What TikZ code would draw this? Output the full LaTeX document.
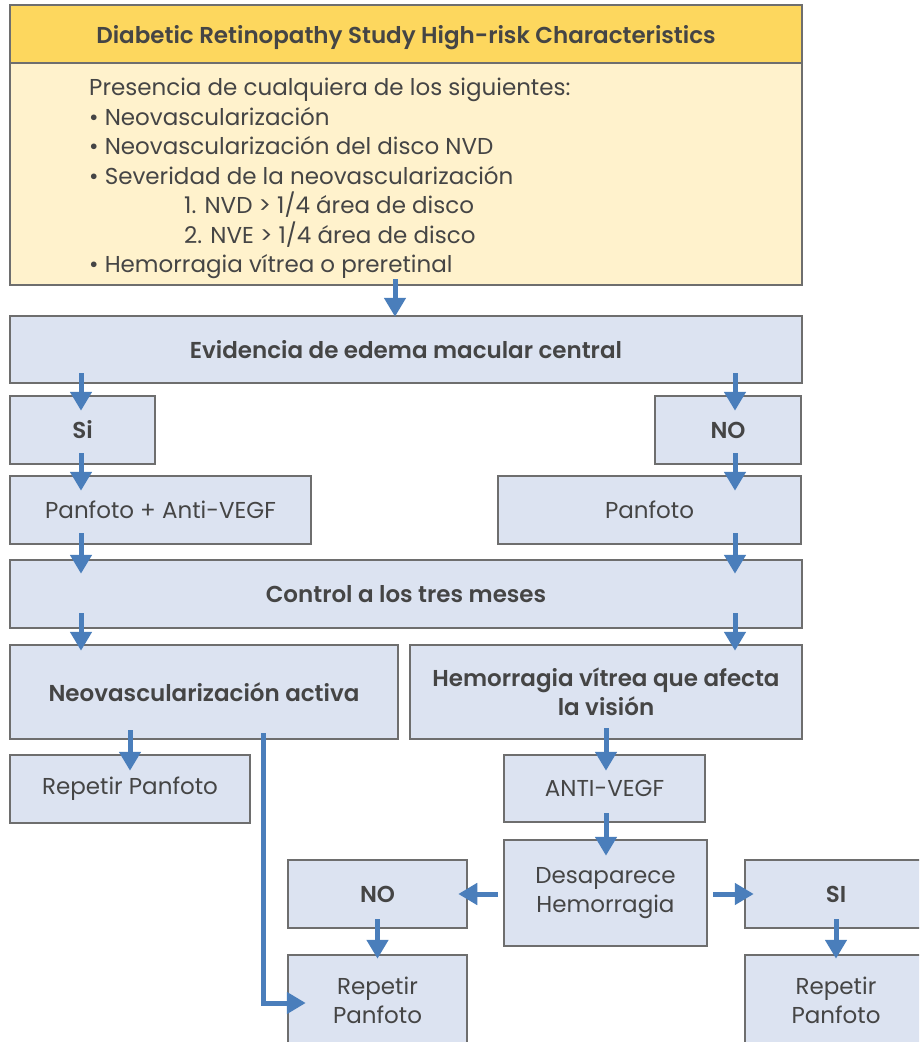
\documentclass[tikz,border=0pt]{standalone}
\usepackage{fontspec}
\IfFontExistsTF{Poppins SemiBold}
  {\setmainfont{Poppins}[BoldFont={Poppins SemiBold}]}
  {\setmainfont{Poppins}}
\usetikzlibrary{arrows.meta}
\definecolor{boxline}{HTML}{6E6E6E}
\definecolor{boxfill}{HTML}{DCE3F1}
\definecolor{headfill}{HTML}{FDD75E}
\definecolor{bodyfill}{HTML}{FFF2CC}
\definecolor{arrblue}{HTML}{4A7EBB}
\definecolor{txt}{HTML}{454545}
\tikzset{
  box/.style={draw=boxline, line width=2.5pt, fill=boxfill, inner sep=0pt,
    text=txt, align=center, font=\fontsize{23}{29}\selectfont},
  boldbox/.style={box, font=\fontsize{23}{29}\selectfont\bfseries},
  arr/.style={draw=arrblue, line width=5pt, -{Triangle[width=21pt,length=19pt]}},
}
\begin{document}
\begin{tikzpicture}[x=1pt,y=-1pt]
        \useasboundingbox (0,0) rectangle (919,1042);
        \clip (0,0) rectangle (919,1042);
        %% Columns for the arrows
        \coordinate (colM) at (395,0);
        \coordinate (colL) at (81,0);
        \coordinate (colR) at (735,0);
        \coordinate (colH) at (606,0);
        \coordinate (colN) at (263,0);
        %% Top box
        \node[boldbox, fill=headfill, minimum width=792pt, minimum height=58pt, text depth=0pt] (head) at (406,34)
          {Diabetic Retinopathy Study High-risk Characteristics};
        \node[box, fill=bodyfill, minimum width=792pt, minimum height=222pt] (body) at (406,174) {};
        \node[text=txt, anchor=west, align=left, inner sep=0pt,
          font=\fontsize{23}{29.5}\selectfont] (bodytxt) at (89,178.5)
          {Presencia de cualquiera de los siguientes:\\
           • Neovascularización\\
           • Neovascularización del disco NVD\\
           • Severidad de la neovascularización\\
           \hspace*{95pt}1. NVD > 1/4 área de disco\\
           \hspace*{95pt}2. NVE > 1/4 área de disco\\
           • Hemorragia vítrea o preretinal};
        %% Flow boxes
        \node[boldbox, minimum width=792pt, minimum height=67pt] (evid) at (406,349.5) {Evidencia de edema macular central};
        \node[boldbox, minimum width=145pt, minimum height=68pt] (si) at (82.5,430) {Si};
        \node[boldbox, minimum width=146pt, minimum height=68pt] (no) at (728,430) {NO};
        \node[box, minimum width=301pt, minimum height=68pt] (panAnti) at (160.5,510) {Panfoto + Anti-VEGF};
        \node[box, minimum width=303pt, minimum height=68pt] (pan) at (649.5,510) {Panfoto};
        \node[boldbox, minimum width=792pt, minimum height=68pt] (ctrl) at (406,594) {Control a los tres meses};
        \node[boldbox, minimum width=388pt, minimum height=94pt] (neo) at (204,692) {Neovascularización activa};
        \node[boldbox, minimum width=392pt, minimum height=94pt] (hem) at (606,692) {Hemorragia vítrea que afecta\\la visión};
        \node[box, minimum width=240pt, minimum height=68pt] (repA) at (130,789) {Repetir Panfoto};
        \node[box, minimum width=201pt, minimum height=67pt] (anti) at (604.5,788.5) {ANTI-VEGF};
        \node[box, minimum width=203pt, minimum height=106pt] (desap) at (605.5,893) {Desaparece\\Hemorragia};
        \node[boldbox, minimum width=179pt, minimum height=68pt] (noB) at (377.5,894) {NO};
        \node[boldbox, minimum width=182pt, minimum height=68pt] (siB) at (836,894) {SI};
        \node[box, minimum width=179pt, minimum height=90pt] (repB) at (377.5,1000) {Repetir\\Panfoto};
        \node[box, minimum width=182pt, minimum height=90pt] (repC) at (836,1000) {Repetir\\Panfoto};
        %% Arrows
        \draw[arr] ([yshift=7pt]body.south -| colM) -- ([yshift=-2pt]evid.north -| colM);
        \draw[arr] ([yshift=11pt]evid.south -| colL) -- ([yshift=-16pt]si.north -| colL);
        \draw[arr] ([yshift=11pt]evid.south -| colR) -- ([yshift=-16pt]no.north -| colR);
        \draw[arr] ([yshift=12pt]si.south -| colL) -- ([yshift=-16pt]panAnti.north -| colL);
        \draw[arr] ([yshift=12pt]no.south -| colR) -- ([yshift=-16pt]pan.north -| colR);
        \draw[arr] ([yshift=12pt]panAnti.south -| colL) -- ([yshift=-15pt]ctrl.north -| colL);
        \draw[arr] ([yshift=12pt]pan.south -| colR) -- ([yshift=-15pt]ctrl.north -| colR);
        \draw[arr] ([yshift=16pt]ctrl.south -| colL) -- ([yshift=-7pt]neo.north -| colL);
        \draw[arr] ([yshift=16pt]ctrl.south -| colR) -- ([yshift=-7pt]hem.north -| colR);
        \draw[arr] ([yshift=10pt]neo.south -| repA.north) -- ([yshift=-17pt]repA.north);
        \draw[arr] ([yshift=12pt]hem.south -| colH) -- ([yshift=-17pt]anti.north -| colH);
        \draw[arr] ([yshift=10pt]anti.south -| colH) -- ([yshift=-17pt]desap.north -| colH);
        \draw[arr] ([xshift=-5pt]desap.west |- noB.east) -- ([xshift=-10pt]noB.east);
        \draw[arr] ([xshift=5pt]desap.east |- siB.west) -- ([xshift=10pt]siB.west);
        \draw[arr] ([yshift=10pt]noB.south) -- ([yshift=-5pt]repB.north);
        \draw[arr] ([yshift=10pt]siB.south) -- ([yshift=-5pt]repC.north);
        \draw[arr] ([yshift=7pt]neo.south -| colN) |- ([shift={(19pt,-3pt)}]repB.west);
\end{tikzpicture}
\end{document}
